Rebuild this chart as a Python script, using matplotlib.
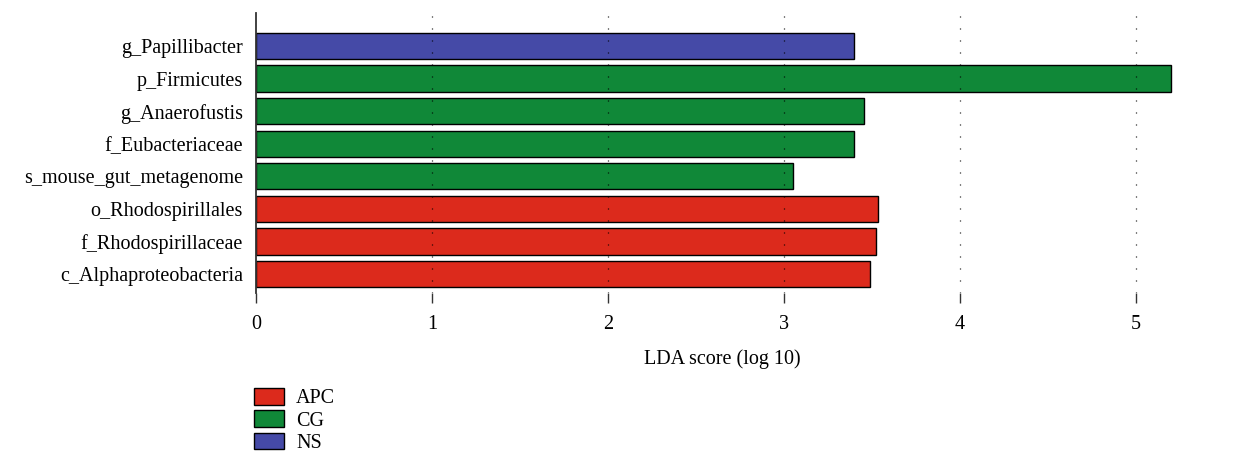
import matplotlib
matplotlib.use('agg')
import matplotlib.pyplot as plt
from matplotlib.patches import Patch

# features listed bottom -> top
features = ['c_Alphaproteobacteria', 'f_Rhodospirillaceae', 'o_Rhodospirillales',
            's_mouse_gut_metagenome', 'f_Eubacteriaceae', 'g_Anaerofustis',
            'p_Firmicutes', 'g_Papillibacter']
lda_scores = [3.49, 3.52, 3.535, 3.05, 3.40, 3.455, 5.20, 3.40]
groups = ['APC', 'APC', 'APC', 'CG', 'CG', 'CG', 'CG', 'NS']
group_names = ['APC', 'CG', 'NS']
group_colors = {'APC': '#DC2A1C', 'CG': '#108838', 'NS': '#454AA7'}
xticks = [0, 1, 2, 3, 4, 5]

plt.rcParams['font.family'] = ['Liberation Serif', 'DejaVu Serif']
FS = 14.5

W, H = 1253, 453
fig = plt.figure(figsize=(W / 100, H / 100), dpi=100)
# axes placed in pixel terms: left 256, top 13, bottom 293
x0, x1 = 256, 256 + 5.3 * 176
y_top, y_bot = 13, 293
ax = fig.add_axes([x0 / W, 1 - y_bot / H, (x1 - x0) / W, (y_bot - y_top) / H])

ypos = list(range(len(features)))
ax.barh(ypos, lda_scores, height=0.8, color=[group_colors[g] for g in groups],
        edgecolor='black', linewidth=1.0, zorder=2)

ax.set_xlim(0, 5.3)
ax.set_ylim(-0.58, 8.01)
ax.set_yticks(ypos)
ax.set_yticklabels(features, fontsize=FS)
ax.set_xticks(xticks)
ax.set_xticklabels([str(t) for t in xticks], fontsize=FS)
ax.tick_params(axis='y', length=0, pad=9.4)
ax.tick_params(axis='x', length=7.2, width=1.0, color='#333333', pad=8.5)
ax.set_xlabel('LDA score (log 10)', fontsize=FS, labelpad=11)

for sp in ['top', 'right', 'bottom']:
    ax.spines[sp].set_visible(False)
ax.spines['left'].set_linewidth(1.3)
ax.spines['left'].set_color('#333333')

for t in xticks[1:]:
    ax.axvline(t, color='black', linewidth=0.9, linestyle=(0, (0.8, 8.8)), zorder=3)

handles = [Patch(facecolor=group_colors[g], edgecolor='black', linewidth=1.0) for g in group_names]
fig.legend(handles, group_names, loc='upper left', bbox_to_anchor=(254 / W, 1 - 388 / H),
           frameon=False, fontsize=FS, borderpad=0, borderaxespad=0,
           handlelength=1.5, handleheight=0.9, labelspacing=0.1, handletextpad=0.6)

fig.savefig('out.png', dpi=100)
